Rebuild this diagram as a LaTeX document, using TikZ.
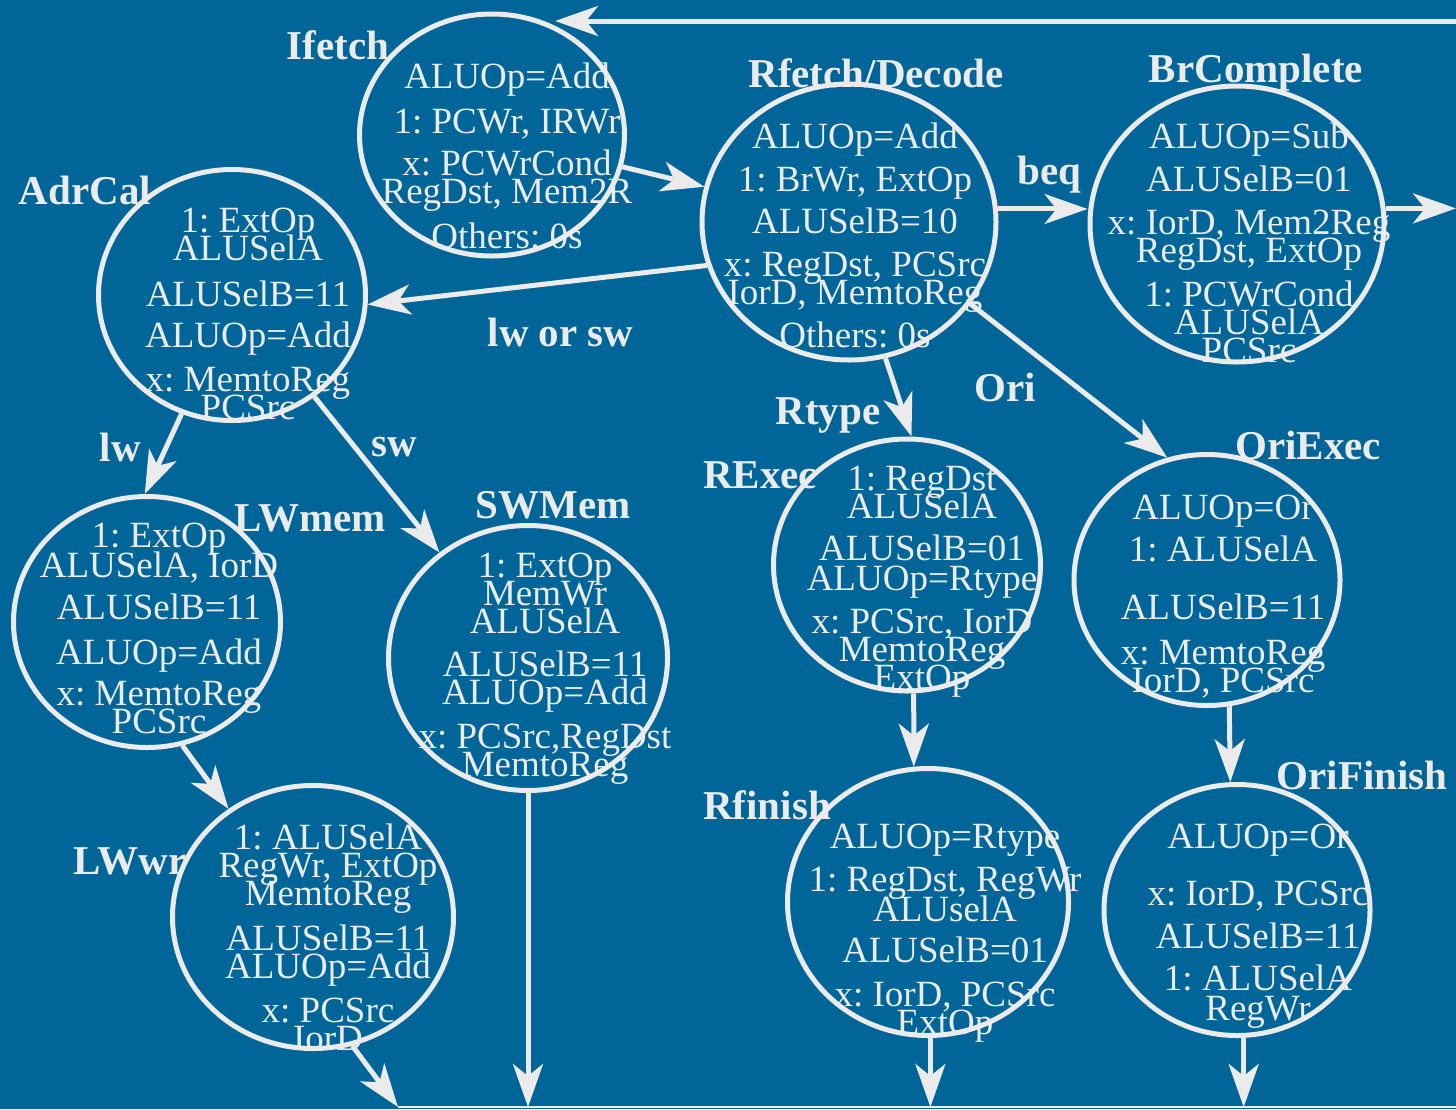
\documentclass[tikz,border=0pt]{standalone}
\usepackage{fontspec}
\setmainfont{Liberation Serif}
\usetikzlibrary{arrows.meta,shapes.geometric}
\definecolor{slideblue}{HTML}{006699}
\definecolor{chalk}{HTML}{EBEBEB}
\setlength{\lineskiplimit}{-100pt}
\frenchspacing

\begin{document}
\begin{tikzpicture}[x=1pt, y=-1pt, color=chalk, line width=5pt,
    -{Stealth[length=43pt,width=30pt,inset=12pt]},
    state node/.style={ellipse, draw, inner sep=0pt},
    ctrl/.style={align=center, inner sep=0pt, anchor=north,
      font=\fontsize{37}{28}\selectfont},
    tag/.style={inner sep=0pt, font=\fontsize{41}{41}\selectfont\bfseries}]

    \fill[slideblue] (0,0) rectangle (1456,1109);
    \useasboundingbox (0,0) rectangle (1456,1109);

    \node[state node, minimum width=265pt, minimum height=242pt] (ifetch) at (492,135) {};
    \node[state node, minimum width=294pt, minimum height=276pt] (rfetch) at (849,222) {};
    \node[state node, minimum width=294pt, minimum height=276pt] (brcomp) at (1237,224) {};
    \node[state node, minimum width=267pt, minimum height=251pt] (adrcal) at (232,295) {};
    \node[state node, minimum width=267pt, minimum height=251pt] (lwmem) at (147,622) {};
    \node[state node, minimum width=279pt, minimum height=265pt] (swmem) at (528,658) {};
    \node[state node, minimum width=281pt, minimum height=263pt] (lwwr) at (313,917) {};
    \node[state node, minimum width=267pt, minimum height=252pt] (rexec) at (907,565) {};
    \node[state node, minimum width=266pt, minimum height=251pt] (oriexec) at (1207,580) {};
    \node[state node, minimum width=281pt, minimum height=267pt] (rfinish) at (928,902) {};
    \node[state node, minimum width=266pt, minimum height=251pt] (orifinish) at (1237,910) {};

    \node[ctrl] (ifetch-txt) at (507,60) {ALUOp=Add\\[17pt]1: PCWr, IRWr\\[14pt]x: PCWrCond\\RegDst, Mem2R\\[17pt]Others: 0s};
    \node[ctrl] (rfetch-txt) at (855,120) {ALUOp=Add\\[15pt]1: BrWr, ExtOp\\[14pt]ALUSelB=10\\[15pt]x: RegDst, PCSrc\\IorD, MemtoReg\\[15pt]Others: 0s};
    \node[ctrl] (brcomp-txt) at (1249,120) {ALUOp=Sub\\[15pt]ALUSelB=01\\[15pt]x: IorD, Mem2Reg\\RegDst, ExtOp\\[16pt]1: PCWrCond\\ALUSelA\\PCSrc};
    \node[ctrl] (adrcal-txt) at (248,205) {1: ExtOp\\ALUSelA\\[18pt]ALUSelB=11\\[13pt]ALUOp=Add\\[16pt]x: MemtoReg\\PCSrc};
    \node[ctrl] (lwmem-txt) at (159,520) {1: ExtOp\\[2pt]ALUSelA, IorD\\[14pt]ALUSelB=11\\[17pt]ALUOp=Add\\[13pt]x: MemtoReg\\PCSrc};
    \node[ctrl] (swmem-txt) at (545,550) {1: ExtOp\\MemWr\\ALUSelA\\[15pt]ALUSelB=11\\ALUOp=Add\\[16pt]x: PCSrc,RegDst\\MemtoReg};
    \node[ctrl] (lwwr-txt) at (328,821) {1: ALUSelA\\RegWr, ExtOp\\MemtoReg\\[17pt]ALUSelB=11\\ALUOp=Add\\[16pt]x: PCSrc\\IorD};
    \node[ctrl] (rexec-txt) at (922,464) {1: RegDst\\ALUSelA\\[14pt]ALUSelB=01\\[2pt]ALUOp=Rtype\\[15pt]x: PCSrc, IorD\\MemtoReg\\ExtOp};
    \node[ctrl] (oriexec-txt) at (1223,492) {ALUOp=Or\\[14pt]1: ALUSelA\\[30pt]ALUSelB=11\\[17pt]x: MemtoReg\\IorD, PCSrc};
    \node[ctrl] (rfinish-txt) at (945,821) {ALUOp=Rtype\\[15pt]1: RegDst, RegWr\\[2pt]ALUselA\\[13pt]ALUSelB=01\\[16pt]x: IorD, PCSrc\\ExtOp};
    \node[ctrl] (orifinish-txt) at (1258,821) {ALUOp=Or\\[29pt]x: IorD, PCSrc\\[15pt]ALUSelB=11\\[14pt]1: ALUSelA\\[2pt]RegWr};

    \node[tag] (ifetch-tag) at (338,45) {Ifetch};
    \node[tag] (rfetch-tag) at (876,73) {Rfetch/Decode};
    \node[tag] (brcomp-tag) at (1256,73) {BrComplete};
    \node[tag] (adrcal-tag) at (85,190) {AdrCal};
    \node[tag] (lwmem-tag) at (310,518) {LWmem};
    \node[tag] (swmem-tag) at (553,505) {SWMem};
    \node[tag] (lwwr-tag) at (130,861) {LWwr};
    \node[tag] (rexec-tag) at (760,475) {RExec};
    \node[tag] (oriexec-tag) at (1308,445) {OriExec};
    \node[tag] (rfinish-tag) at (767,805) {Rfinish};
    \node[tag] (orifinish-tag) at (1362,775) {OriFinish};

    \coordinate (top-in) at (1456,21);
    \coordinate (br-out) at (1456,209);
    \coordinate (bus-w) at (398,1107);
    \coordinate (bus-e) at (1456,1107);

    \path (top-in) edge (ifetch.60 |- top-in)
        (ifetch) edge (rfetch)
        (rfetch.197) edge node[tag, pos=0.44, xshift=3pt, yshift=-50pt] {lw or sw} (adrcal.356)
        (rfetch.5) edge node[tag, midway, xshift=7pt, yshift=34pt] {beq} (rfetch.5 -| brcomp.west)
        (brcomp.6) edge (brcomp.6 -| br-out)
        (rfetch.285) edge node[tag, pos=0.6, xshift=-73pt, yshift=-10pt] {Rtype} (rexec.88)
        (rfetch.326) edge node[tag, pos=0.3, xshift=-24pt, yshift=-37pt] {Ori} (oriexec.108)
        (adrcal.247) edge node[tag, pos=0.5, xshift=-43pt, yshift=6pt] {lw} (lwmem.91)
        (adrcal.309) edge node[tag, pos=0.4, xshift=30pt, yshift=12pt] {sw} (swmem.130)
        (lwmem.286) edge (lwwr.128)
        (lwwr.287) edge (bus-w)
        (swmem.south) edge (swmem.south |- bus-w)
        (rexec.273) edge (rfinish.96)
        (rfinish.271) edge (rfinish.271 |- bus-w)
        (oriexec.280) edge (orifinish.93)
        (orifinish.273) edge (orifinish.273 |- bus-w);

    \draw[-, line width=1.5pt] (bus-w) -- (bus-e);
\end{tikzpicture}
\end{document}
